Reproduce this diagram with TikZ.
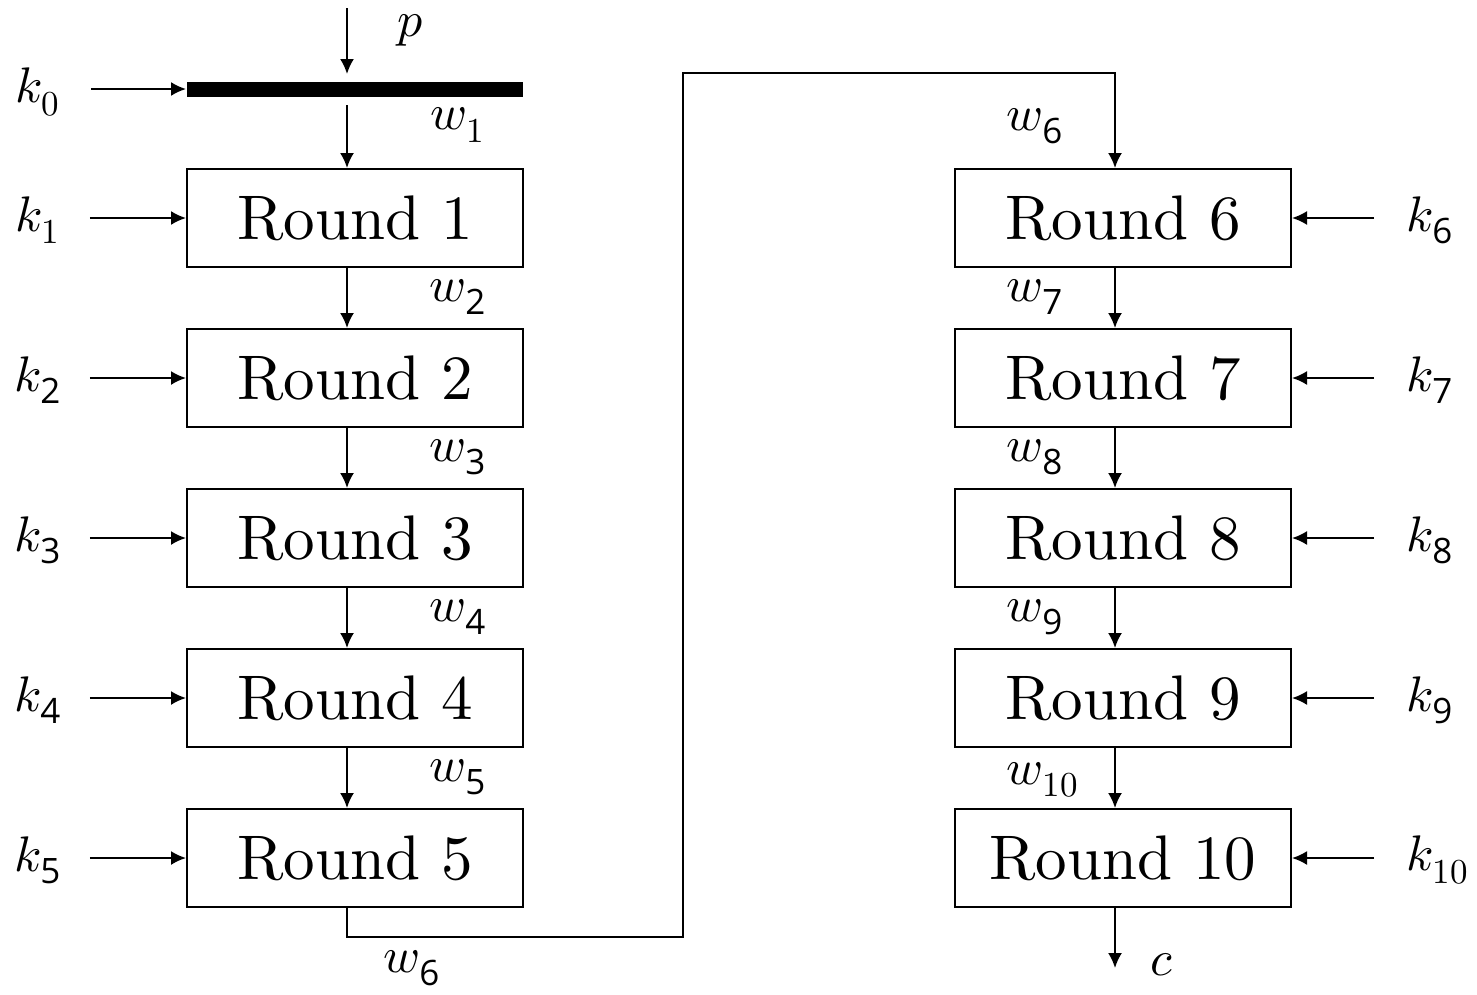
\documentclass[tikz,border=0pt]{standalone}
\usepackage{amsmath}
\usepackage{fontspec}
\usepackage{unicode-math}
\setmathfont{Latin Modern Math}
\newfontfamily\subf{Open Sans}
\newfontfamily\rfont[Extension=.otf]{lmroman10-regular}
\usetikzlibrary{arrows.meta,calc}
\newcommand{\sd}[1]{\text{\subf #1}}
\begin{document}
\begin{tikzpicture}[x=0.4pt,y=-0.4pt,
  line width=0.8pt,
  arr/.style={-{Latex[length=6pt,width=5.6pt]}},
  roundbox/.style={draw,minimum width=134.4pt,minimum height=39.2pt,inner sep=0pt,font=\rfont\fontsize{25.2}{30}\selectfont},
  lab/.style={inner sep=0pt,font=\fontsize{20}{24}\selectfont}]
\useasboundingbox (0,0) rectangle (1477,994);
% bar
\node[fill,minimum width=134.4pt,minimum height=6pt,inner sep=0pt] (bar) at (355,89) {};
% boxes
\foreach \i/\y in {1/218,2/378,3/538,4/698,5/858}{
  \node[roundbox] (r\i) at (355,\y) {Round \i};
}
\foreach \i/\y in {6/218,7/378,8/538,9/698,10/858}{
  \node[roundbox] (r\i) at (1123,\y) {Round \i};
}
% labels
\node[lab] (p) at (410,30) {$p$};
\node[lab] (k0) at (38,92) {$k_0$};
\node[lab] (k1) at (38,220) {$k_1$};
\node[lab] (k2) at (38,380) {$k_{\sd{2}}$};
\node[lab] (k3) at (38,540) {$k_{\sd{3}}$};
\node[lab] (k4) at (38,700) {$k_{\sd{4}}$};
\node[lab] (k5) at (38,860) {$k_{\sd{5}}$};
\node[lab] (k6) at (1430,220) {$k_{\sd{6}}$};
\node[lab] (k7) at (1430,380) {$k_{\sd{7}}$};
\node[lab] (k8) at (1430,540) {$k_{\sd{8}}$};
\node[lab] (k9) at (1430,700) {$k_{\sd{9}}$};
\node[lab] (k10) at (1438,860) {$k_{10}$};
\node[lab] (w1) at (458,125) {$w_1$};
\node[lab] (w2) at (458,297) {$w_{\sd{2}}$};
\node[lab] (w3) at (458,457) {$w_{\sd{3}}$};
\node[lab] (w4) at (458,617) {$w_{\sd{4}}$};
\node[lab] (w5) at (458,777) {$w_{\sd{5}}$};
\node[lab] (w6a) at (412,968) {$w_{\sd{6}}$};
\node[lab] (w6b) at (1035,126) {$w_{\sd{6}}$};
\node[lab] (w7) at (1035,297) {$w_{\sd{7}}$};
\node[lab] (w8) at (1035,457) {$w_{\sd{8}}$};
\node[lab] (w9) at (1035,617) {$w_{\sd{9}}$};
\node[lab] (w10) at (1043,780) {$w_{10}$};
\node[lab] (c) at (1162,965) {$c$};
% coordinates
\coordinate (ptop) at (347,8);
\coordinate (pend) at (347,74);
\coordinate (wstart) at (347,105);
\coordinate (k0s) at (91,89);
\coordinate (t1) at (683,937);
\coordinate (t2) at (683,73);
\coordinate (cend) at (1115,968);
% top
\draw[arr] (ptop) -- (pend);
\draw[arr] (k0s) -- (bar.west);
\draw[arr] (wstart) -- ($(r1.north)+(-8,0)$);
% k arrows
\foreach \i in {1,...,5}{
  \draw[arr] ($(r\i.west)+(-96,0)$) -- (r\i.west);
}
\foreach \i in {6,...,10}{
  \draw[arr] ($(r\i.east)+(82,0)$) -- (r\i.east);
}
% vertical arrows
\foreach \a/\b in {1/2,2/3,3/4,4/5,6/7,7/8,8/9,9/10}{
  \draw[arr] ($(r\a.south)+(-8,0)$) -- ($(r\b.north)+(-8,0)$);
}
\draw[arr] ($(r5.south)+(-8,0)$) |- (t1) -- (t2) -| ($(r6.north)+(-8,0)$);
\draw[arr] ($(r10.south)+(-8,0)$) -- (cend);
\end{tikzpicture}
\end{document}
